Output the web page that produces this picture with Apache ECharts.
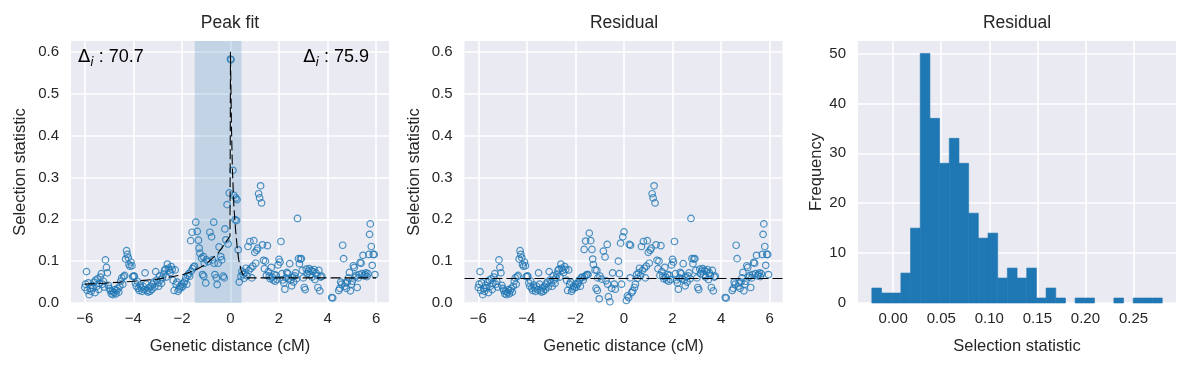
<!DOCTYPE html>
<html><head><meta charset="utf-8">
<script src="https://cdn.jsdelivr.net/npm/echarts/dist/echarts.min.js"></script>
<style>html,body{margin:0;padding:0;background:#fff}#c{width:1191px;height:368px}</style>
</head><body><div id="c"></div>
<script>
// ---------- data ----------
const genDist = [
-6.00,-5.97,-5.93,-5.90,-5.86,-5.82,-5.78,-5.74,-5.70,-5.66,
-5.62,-5.58,-5.55,-5.51,-5.47,-5.43,-5.40,-5.36,-5.32,-5.28,
-5.24,-5.20,-5.15,-5.11,-5.07,-5.03,-4.99,-4.95,-4.91,-4.87,
-4.84,-4.80,-4.76,-4.72,-4.68,-4.64,-4.60,-4.56,-4.52,-4.48,
-4.44,-4.40,-4.36,-4.32,-4.28,-4.25,-4.21,-4.18,-4.14,-4.10,
-4.06,-4.03,-3.99,-3.96,-3.92,-3.88,-3.84,-3.80,-3.76,-3.72,
-3.68,-3.64,-3.60,-3.56,-3.52,-3.48,-3.44,-3.40,-3.36,-3.32,
-3.28,-3.24,-3.20,-3.16,-3.12,-3.08,-3.04,-3.00,-2.96,-2.92,
-2.88,-2.84,-2.80,-2.76,-2.72,-2.68,-2.64,-2.60,-2.56,-2.52,
-2.48,-2.44,-2.40,-2.36,-2.32,-2.28,-2.24,-2.20,-2.16,-2.12,
-2.08,-2.04,-2.00,-1.96,-1.92,-1.88,-1.84,-1.80,-1.76,-1.72,
-1.68,-1.64,-1.62,-1.58,-1.56,-1.52,-1.48,-1.43,-1.37,-1.32,
-1.29,-1.26,-1.19,-1.15,-1.12,-1.10,-1.08,-1.02,-0.99,-0.92,
-0.85,-0.78,-0.74,-0.69,-0.67,-0.64,-0.58,-0.55,-0.51,-0.47,
-0.40,-0.36,-0.30,-0.26,-0.23,-0.19,-0.14,-0.10,-0.05,0.00,
0.02,0.10,0.14,0.22,0.27,0.19,0.25,0.32,0.36,0.43,
0.47,0.52,0.56,0.60,0.64,0.68,0.72,0.76,0.80,0.84,
0.88,0.92,0.96,1.00,1.04,1.08,1.12,1.16,1.20,1.24,
1.28,1.32,1.36,1.40,1.44,1.48,1.52,1.56,1.60,1.64,
1.68,1.72,1.76,1.80,1.84,1.88,1.92,1.96,2.00,2.04,
2.08,2.12,2.16,2.20,2.24,2.28,2.32,2.36,2.40,2.44,
2.48,2.52,2.56,2.60,2.64,2.68,2.72,2.76,2.80,2.84,
2.88,2.92,2.96,3.00,3.04,3.08,3.12,3.16,3.20,3.24,
3.28,3.32,3.36,3.40,3.44,3.48,3.52,3.56,3.60,3.64,
3.68,3.72,3.76,4.17,4.21,4.46,4.50,4.54,4.58,4.62,
4.66,4.70,4.74,4.78,4.82,4.86,4.90,4.94,4.98,5.02,
5.06,5.10,5.14,5.18,5.22,5.26,5.30,5.34,5.38,5.42,
5.46,5.50,5.54,5.58,5.62,5.66,5.70,5.73,5.76,5.80,
5.84,5.88,5.92,5.95];

const rawStat = [
0.037,0.045,0.075,0.030,0.048,0.020,0.035,0.028,0.042,0.036,
0.050,0.025,0.055,0.040,0.058,0.032,0.047,0.062,0.070,0.045,
0.052,0.038,0.103,0.085,0.072,0.042,0.035,0.030,0.022,0.028,
0.020,0.025,0.032,0.022,0.030,0.035,0.026,0.040,0.052,0.060,
0.045,0.063,0.066,0.105,0.125,0.116,0.108,0.092,0.088,0.098,
0.089,0.063,0.064,0.064,0.048,0.040,0.052,0.035,0.030,0.043,
0.036,0.028,0.040,0.032,0.072,0.045,0.030,0.026,0.036,0.028,
0.040,0.032,0.045,0.050,0.038,0.075,0.055,0.048,0.040,0.065,
0.055,0.047,0.060,0.069,0.078,0.081,0.062,0.093,0.083,0.078,
0.073,0.087,0.080,0.054,0.030,0.079,0.045,0.050,0.028,0.033,
0.040,0.036,0.045,0.040,0.048,0.052,0.060,0.045,0.066,0.070,
0.064,0.149,0.076,0.169,0.082,0.086,0.088,0.193,0.171,0.150,
0.131,0.119,0.107,0.068,0.111,0.064,0.095,0.048,0.103,0.099,
0.169,0.158,0.103,0.193,0.095,0.068,0.060,0.044,0.095,0.134,
0.111,0.103,0.064,0.060,0.177,0.151,0.235,0.141,0.263,0.583,
0.581,0.317,0.257,0.251,0.247,0.199,0.197,0.127,0.050,0.064,
0.076,0.068,0.059,0.072,0.083,0.065,0.135,0.078,0.147,0.083,
0.060,0.088,0.149,0.121,0.095,0.126,0.131,0.261,0.251,0.280,
0.239,0.139,0.102,0.082,0.100,0.066,0.137,0.075,0.064,0.058,
0.085,0.062,0.055,0.068,0.052,0.066,0.056,0.091,0.104,0.098,
0.147,0.070,0.055,0.048,0.033,0.060,0.073,0.070,0.058,0.094,
0.055,0.041,0.062,0.050,0.065,0.072,0.058,0.202,0.106,0.094,
0.105,0.106,0.078,0.060,0.037,0.032,0.081,0.070,0.076,0.082,
0.068,0.078,0.062,0.075,0.080,0.056,0.072,0.066,0.037,0.078,
0.029,0.062,0.064,0.013,0.012,0.030,0.035,0.050,0.045,0.138,
0.106,0.040,0.048,0.035,0.050,0.060,0.073,0.029,0.045,0.052,
0.089,0.085,0.062,0.066,0.037,0.060,0.068,0.097,0.095,0.070,
0.114,0.065,0.068,0.072,0.063,0.070,0.116,0.164,0.189,0.135,
0.090,0.116,0.116,0.068];

const residStat = [
0.037,0.045,0.075,0.030,0.048,0.020,0.035,0.028,0.042,0.036,
0.050,0.025,0.055,0.040,0.058,0.032,0.047,0.062,0.070,0.045,
0.052,0.038,0.103,0.085,0.072,0.042,0.035,0.030,0.022,0.028,
0.020,0.025,0.032,0.022,0.030,0.035,0.026,0.040,0.052,0.060,
0.045,0.063,0.066,0.105,0.125,0.116,0.108,0.092,0.088,0.098,
0.089,0.063,0.064,0.064,0.048,0.040,0.052,0.035,0.030,0.043,
0.036,0.028,0.040,0.032,0.072,0.045,0.030,0.026,0.036,0.028,
0.040,0.032,0.045,0.050,0.038,0.075,0.055,0.048,0.040,0.065,
0.055,0.047,0.060,0.069,0.078,0.081,0.062,0.093,0.083,0.078,
0.073,0.087,0.080,0.054,0.030,0.079,0.045,0.050,0.028,0.033,
0.040,0.036,0.045,0.038,0.045,0.048,0.055,0.040,0.060,0.062,
0.055,0.128,0.063,0.148,0.066,0.068,0.068,0.167,0.149,0.128,
0.105,0.092,0.079,0.035,0.078,0.030,0.060,0.010,0.064,0.057,
0.124,0.110,0.053,0.140,0.045,0.015,0.003,-0.014,0.035,0.072,
0.045,0.033,-0.010,-0.018,0.100,0.070,0.143,0.045,0.158,0.170,
-0.015,0.006,0.017,0.140,0.138,0.013,0.060,0.025,0.029,0.037,
0.045,0.068,0.059,0.072,0.083,0.065,0.135,0.078,0.147,0.083,
0.060,0.088,0.149,0.121,0.095,0.126,0.131,0.261,0.251,0.280,
0.239,0.139,0.102,0.082,0.100,0.066,0.137,0.075,0.064,0.058,
0.085,0.062,0.055,0.068,0.052,0.066,0.056,0.091,0.104,0.098,
0.147,0.070,0.055,0.048,0.033,0.060,0.073,0.070,0.058,0.094,
0.055,0.041,0.062,0.050,0.065,0.072,0.058,0.202,0.106,0.094,
0.105,0.106,0.078,0.060,0.037,0.032,0.081,0.070,0.076,0.082,
0.068,0.078,0.062,0.075,0.080,0.056,0.072,0.066,0.037,0.078,
0.029,0.062,0.064,0.013,0.012,0.030,0.035,0.050,0.045,0.138,
0.106,0.040,0.048,0.035,0.050,0.060,0.073,0.029,0.045,0.052,
0.089,0.085,0.062,0.066,0.037,0.060,0.068,0.097,0.095,0.070,
0.114,0.065,0.068,0.072,0.063,0.070,0.116,0.164,0.189,0.135,
0.090,0.116,0.116,0.068];

// fitted peak curve (dashed)
const fitX = [-6, -5, -4, -3, -2, -1.5, -1, -0.5, -0.25, -0.02, 0, 0.04, 0.08, 0.14, 0.21, 0.28, 0.34, 0.45, 0.56, 0.7, 6];
const fitY = [0.045, 0.048, 0.052, 0.057, 0.067, 0.077, 0.093, 0.12, 0.14, 0.16, 0.60, 0.42, 0.318, 0.23, 0.175, 0.13, 0.103, 0.075, 0.064, 0.06, 0.06];
const residBaseline = 0.058;
const peakSpan = [-1.47, 0.45];
const deltaLeft = '70.7';
const deltaRight = '75.9';

// histogram of residuals
const histCounts = [3,2,2,6,15,50,37,28,33,28,18,13,14,5,7,5,7,1,3,1,0,1,1,0,0,1,0,1,1,1];
const histRange = [-0.0222, 0.2799];

// tick labels
const distTicks = [-6,-4,-2,0,2,4,6];
const statTicks = [0,0.1,0.2,0.3,0.4,0.5,0.6];
const histTicks = [0,0.05,0.10,0.15,0.20,0.25];
const freqTicks = [0,10,20,30,40,50];

const titles = ['Peak fit', 'Residual', 'Residual'];

// ---------- chart ----------
const FONT = 'Liberation Sans';
const TXT = '#262626';
const BLUE = '#1f77b4';
const BG = '#EAEAF2';
const TICK_FS = 15, LABEL_FS = 16.5, TITLE_FS = 17.5;

const fmt = d => v => { const s = Math.abs(v).toFixed(d); return (v < 0 ? '\u2212' : '') + s; };

function axis(gridIndex, min, max, ticks, dec, name, nameGap, isY) {
  return {
    type: 'value', gridIndex, min, max,
    name, nameLocation: 'middle', nameGap,
    nameTextStyle: { fontFamily: FONT, fontSize: LABEL_FS, color: TXT },
    axisLine: { show: false },
    axisTick: { show: false, customValues: ticks },
    axisLabel: { customValues: ticks, formatter: fmt(dec), fontFamily: FONT, fontSize: TICK_FS, color: TXT, margin: isY ? 12 : 8 },
    splitLine: { show: true, lineStyle: { color: '#ffffff', width: 1.6 } }
  };
}

const grids = [
  { left: 71, top: 41, width: 318, height: 262 },
  { left: 464.5, top: 41, width: 318, height: 262 },
  { left: 858, top: 41, width: 318, height: 262 }
].map(g => Object.assign(g, { show: true, backgroundColor: BG, borderWidth: 0 }));

const xMin = -6.57, xMax = 6.53, yMin = 0, yMax = 0.626;
const nb = histCounts.length;
const bw = (histRange[1] - histRange[0]) / nb;
const histData = histCounts.map((c, i) => [histRange[0] + i * bw, histRange[0] + (i + 1) * bw, c]);

const rawPts = genDist.map((x, i) => [x, rawStat[i]]);
const resPts = genDist.map((x, i) => [x, residStat[i]]);
const fitPts = fitX.map((x, i) => [x, fitY[i]]);

const scatterStyle = { color: 'rgba(0,0,0,0)', borderColor: BLUE, borderWidth: 1.2 };

const deltaRich = {
  d: { fontFamily: 'DejaVu Sans', fontSize: 18, color: TXT, lineHeight: 24, verticalAlign: 'middle' },
  i: { fontFamily: 'DejaVu Sans', fontStyle: 'italic', fontSize: 12.5, color: TXT, lineHeight: 24, verticalAlign: 'bottom' },
  t: { fontFamily: FONT, fontSize: 18, color: TXT, lineHeight: 24, verticalAlign: 'middle' }
};

const option = {
  animation: false,
  backgroundColor: '#ffffff',
  title: titles.map((t, i) => ({
    text: t, left: [230, 624, 1017][i], top: 14, textAlign: 'center', padding: 0,
    textStyle: { fontFamily: FONT, fontSize: TITLE_FS, fontWeight: 'normal', color: TXT }
  })),
  grid: grids,
  xAxis: [
    axis(0, xMin, xMax, distTicks, 0, 'Genetic distance (cM)', 35, false),
    axis(1, xMin, xMax, distTicks, 0, 'Genetic distance (cM)', 35, false),
    axis(2, -0.0366, 0.2942, histTicks, 2, 'Selection statistic', 35, false)
  ],
  yAxis: [
    axis(0, yMin, yMax, statTicks, 1, 'Selection statistic', 42, true),
    axis(1, yMin, yMax, statTicks, 1, 'Selection statistic', 42, true),
    axis(2, 0, 52.5, freqTicks, 0, 'Frequency', 33, true)
  ],
  series: [
    { type: 'line', xAxisIndex: 0, yAxisIndex: 0, data: [], z: 1, silent: true,
      markArea: { silent: true, itemStyle: { color: 'rgba(31,119,180,0.2)' },
        data: [[{ xAxis: peakSpan[0] }, { xAxis: peakSpan[1] }]] } },
    { type: 'scatter', xAxisIndex: 0, yAxisIndex: 0, data: rawPts, symbol: 'circle', symbolSize: 6.5, itemStyle: scatterStyle, z: 2 },
    { type: 'line', xAxisIndex: 0, yAxisIndex: 0, data: fitPts, showSymbol: false, symbol: 'none', z: 3,
      lineStyle: { color: '#000', width: 1.1, type: [10, 4] } },
    { type: 'scatter', xAxisIndex: 1, yAxisIndex: 1, data: resPts, symbol: 'circle', symbolSize: 6.5, itemStyle: scatterStyle, z: 2,
      markLine: { silent: true, symbol: 'none', label: { show: false },
        lineStyle: { color: '#000', width: 1.1, type: [10, 4] }, data: [{ yAxis: residBaseline }] } },
    { type: 'custom', xAxisIndex: 2, yAxisIndex: 2, data: histData, encode: { x: [0, 1], y: 2 },
      renderItem: (params, api) => {
        if (!(api.value(2) > 0)) return null;
        const a = api.coord([api.value(0), api.value(2)]);
        const b = api.coord([api.value(1), 0]);
        return { type: 'rect', shape: { x: a[0], y: a[1], width: b[0] - a[0], height: b[1] - a[1] },
          style: { fill: BLUE, stroke: BLUE, lineWidth: 0.6 } };
      } }
  ],
  graphic: [
    { type: 'text', left: 78, top: 48, z: 10, style: { text: '{d|\u0394}{i|i}{t| : ' + deltaLeft + '}', rich: deltaRich } },
    { type: 'text', right: 1191 - 369, top: 48, z: 10, style: { text: '{d|\u0394}{i|i}{t| : ' + deltaRight + '}', rich: deltaRich } }
  ]
};

const chart = echarts.init(document.getElementById('c'), null, { renderer: 'canvas' });
chart.setOption(option);
</script></body></html>
